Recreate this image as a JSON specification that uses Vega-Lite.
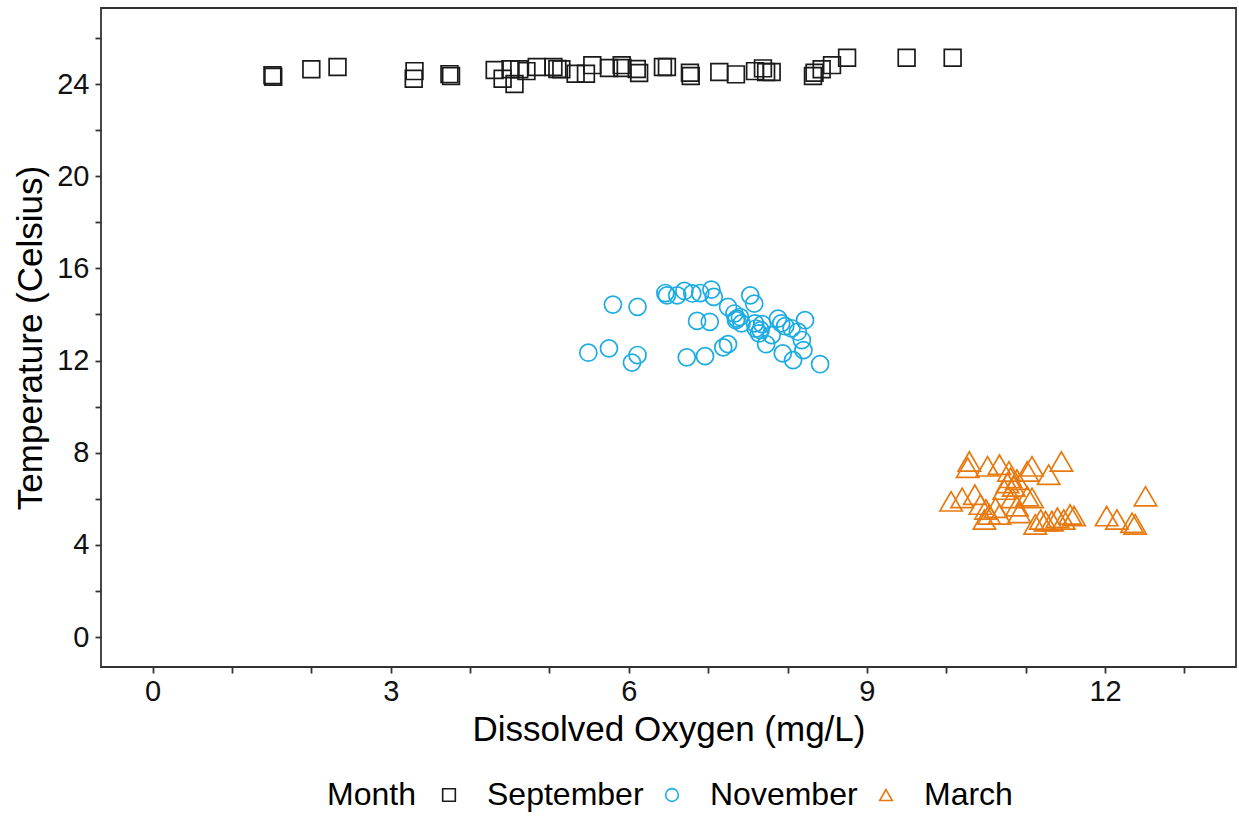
{
  "$schema": "https://vega.github.io/schema/vega-lite/v6.json",
  "width": 1135,
  "height": 659,
  "autosize": {"type": "none"},
  "padding": {"left": 101, "top": 8, "right": 3, "bottom": 149},
  "background": "white",
  "config": {
    "font": "Liberation Sans",
    "view": {"stroke": "#333333", "strokeWidth": 1.8},
    "axis": {
      "domain": false,
      "grid": false,
      "tickColor": "#333333",
      "tickWidth": 1.8,
      "tickSize": 6,
      "labelFont": "Liberation Sans",
      "labelFontSize": 29,
      "labelColor": "#111111",
      "titleFont": "Liberation Sans",
      "titleFontSize": 35,
      "titleFontWeight": "normal",
      "titleColor": "#000000"
    },
    "legend": {
      "labelFont": "Liberation Sans",
      "titleFont": "Liberation Sans"
    }
  },
  "data": {
    "values": [
      {"oxygen": 1.51, "temp": 24.38, "Month": "September"},
      {"oxygen": 1.52, "temp": 24.32, "Month": "September"},
      {"oxygen": 2.00, "temp": 24.64, "Month": "September"},
      {"oxygen": 2.33, "temp": 24.74, "Month": "September"},
      {"oxygen": 3.30, "temp": 24.56, "Month": "September"},
      {"oxygen": 3.29, "temp": 24.23, "Month": "September"},
      {"oxygen": 3.74, "temp": 24.43, "Month": "September"},
      {"oxygen": 3.76, "temp": 24.35, "Month": "September"},
      {"oxygen": 4.31, "temp": 24.61, "Month": "September"},
      {"oxygen": 4.41, "temp": 24.23, "Month": "September"},
      {"oxygen": 4.56, "temp": 24.00, "Month": "September"},
      {"oxygen": 4.51, "temp": 24.64, "Month": "September"},
      {"oxygen": 4.62, "temp": 24.64, "Month": "September"},
      {"oxygen": 4.71, "temp": 24.56, "Month": "September"},
      {"oxygen": 4.84, "temp": 24.74, "Month": "September"},
      {"oxygen": 5.05, "temp": 24.74, "Month": "September"},
      {"oxygen": 5.10, "temp": 24.65, "Month": "September"},
      {"oxygen": 5.15, "temp": 24.64, "Month": "September"},
      {"oxygen": 5.33, "temp": 24.45, "Month": "September"},
      {"oxygen": 5.46, "temp": 24.45, "Month": "September"},
      {"oxygen": 5.54, "temp": 24.82, "Month": "September"},
      {"oxygen": 5.75, "temp": 24.70, "Month": "September"},
      {"oxygen": 5.91, "temp": 24.82, "Month": "September"},
      {"oxygen": 5.92, "temp": 24.70, "Month": "September"},
      {"oxygen": 6.10, "temp": 24.65, "Month": "September"},
      {"oxygen": 6.13, "temp": 24.48, "Month": "September"},
      {"oxygen": 6.43, "temp": 24.74, "Month": "September"},
      {"oxygen": 6.48, "temp": 24.74, "Month": "September"},
      {"oxygen": 6.77, "temp": 24.49, "Month": "September"},
      {"oxygen": 6.78, "temp": 24.35, "Month": "September"},
      {"oxygen": 7.14, "temp": 24.52, "Month": "September"},
      {"oxygen": 7.35, "temp": 24.42, "Month": "September"},
      {"oxygen": 7.59, "temp": 24.56, "Month": "September"},
      {"oxygen": 7.69, "temp": 24.68, "Month": "September"},
      {"oxygen": 7.73, "temp": 24.52, "Month": "September"},
      {"oxygen": 7.80, "temp": 24.52, "Month": "September"},
      {"oxygen": 8.32, "temp": 24.35, "Month": "September"},
      {"oxygen": 8.34, "temp": 24.49, "Month": "September"},
      {"oxygen": 8.43, "temp": 24.64, "Month": "September"},
      {"oxygen": 8.56, "temp": 24.82, "Month": "September"},
      {"oxygen": 8.75, "temp": 25.14, "Month": "September"},
      {"oxygen": 9.50, "temp": 25.14, "Month": "September"},
      {"oxygen": 10.08, "temp": 25.14, "Month": "September"},

      {"oxygen": 5.80, "temp": 14.43, "Month": "November"},
      {"oxygen": 6.11, "temp": 14.33, "Month": "November"},
      {"oxygen": 5.49, "temp": 12.34, "Month": "November"},
      {"oxygen": 5.75, "temp": 12.53, "Month": "November"},
      {"oxygen": 6.04, "temp": 11.91, "Month": "November"},
      {"oxygen": 6.11, "temp": 12.24, "Month": "November"},
      {"oxygen": 6.46, "temp": 14.93, "Month": "November"},
      {"oxygen": 6.48, "temp": 14.83, "Month": "November"},
      {"oxygen": 6.61, "temp": 14.83, "Month": "November"},
      {"oxygen": 6.70, "temp": 15.02, "Month": "November"},
      {"oxygen": 6.80, "temp": 14.91, "Month": "November"},
      {"oxygen": 6.90, "temp": 14.93, "Month": "November"},
      {"oxygen": 7.04, "temp": 15.08, "Month": "November"},
      {"oxygen": 7.07, "temp": 14.76, "Month": "November"},
      {"oxygen": 6.86, "temp": 13.72, "Month": "November"},
      {"oxygen": 7.02, "temp": 13.68, "Month": "November"},
      {"oxygen": 6.73, "temp": 12.14, "Month": "November"},
      {"oxygen": 6.96, "temp": 12.19, "Month": "November"},
      {"oxygen": 7.19, "temp": 12.57, "Month": "November"},
      {"oxygen": 7.25, "temp": 12.71, "Month": "November"},
      {"oxygen": 7.25, "temp": 14.33, "Month": "November"},
      {"oxygen": 7.33, "temp": 14.04, "Month": "November"},
      {"oxygen": 7.36, "temp": 13.82, "Month": "November"},
      {"oxygen": 7.40, "temp": 13.89, "Month": "November"},
      {"oxygen": 7.35, "temp": 13.75, "Month": "November"},
      {"oxygen": 7.42, "temp": 13.61, "Month": "November"},
      {"oxygen": 7.53, "temp": 14.83, "Month": "November"},
      {"oxygen": 7.58, "temp": 14.47, "Month": "November"},
      {"oxygen": 7.59, "temp": 13.61, "Month": "November"},
      {"oxygen": 7.60, "temp": 13.39, "Month": "November"},
      {"oxygen": 7.66, "temp": 13.32, "Month": "November"},
      {"oxygen": 7.64, "temp": 13.18, "Month": "November"},
      {"oxygen": 7.68, "temp": 13.58, "Month": "November"},
      {"oxygen": 7.73, "temp": 12.71, "Month": "November"},
      {"oxygen": 7.88, "temp": 13.82, "Month": "November"},
      {"oxygen": 7.92, "temp": 13.61, "Month": "November"},
      {"oxygen": 7.97, "temp": 13.49, "Month": "November"},
      {"oxygen": 7.94, "temp": 12.31, "Month": "November"},
      {"oxygen": 8.07, "temp": 12.02, "Month": "November"},
      {"oxygen": 8.13, "temp": 13.25, "Month": "November"},
      {"oxygen": 8.18, "temp": 12.89, "Month": "November"},
      {"oxygen": 8.20, "temp": 12.45, "Month": "November"},
      {"oxygen": 8.22, "temp": 13.75, "Month": "November"},
      {"oxygen": 8.41, "temp": 11.84, "Month": "November"},
      {"oxygen": 7.80, "temp": 13.10, "Month": "November"},
      {"oxygen": 8.05, "temp": 13.40, "Month": "November"},

      {"oxygen": 10.29, "temp": 7.62, "Month": "March"},
      {"oxygen": 10.27, "temp": 7.35, "Month": "March"},
      {"oxygen": 10.52, "temp": 7.41, "Month": "March"},
      {"oxygen": 10.67, "temp": 7.48, "Month": "March"},
      {"oxygen": 10.79, "temp": 7.19, "Month": "March"},
      {"oxygen": 11.02, "temp": 7.19, "Month": "March"},
      {"oxygen": 11.08, "temp": 7.41, "Month": "March"},
      {"oxygen": 11.29, "temp": 7.05, "Month": "March"},
      {"oxygen": 11.45, "temp": 7.62, "Month": "March"},
      {"oxygen": 10.06, "temp": 5.89, "Month": "March"},
      {"oxygen": 10.20, "temp": 6.04, "Month": "March"},
      {"oxygen": 10.36, "temp": 6.18, "Month": "March"},
      {"oxygen": 10.43, "temp": 5.75, "Month": "March"},
      {"oxygen": 10.50, "temp": 5.54, "Month": "March"},
      {"oxygen": 10.54, "temp": 5.32, "Month": "March"},
      {"oxygen": 10.48, "temp": 5.10, "Month": "March"},
      {"oxygen": 10.62, "temp": 5.61, "Month": "March"},
      {"oxygen": 10.67, "temp": 5.32, "Month": "March"},
      {"oxygen": 10.73, "temp": 6.40, "Month": "March"},
      {"oxygen": 10.77, "temp": 6.69, "Month": "March"},
      {"oxygen": 10.81, "temp": 6.91, "Month": "March"},
      {"oxygen": 10.85, "temp": 6.54, "Month": "March"},
      {"oxygen": 10.89, "temp": 6.83, "Month": "March"},
      {"oxygen": 10.83, "temp": 6.04, "Month": "March"},
      {"oxygen": 10.89, "temp": 5.68, "Month": "March"},
      {"oxygen": 10.92, "temp": 5.39, "Month": "March"},
      {"oxygen": 11.02, "temp": 6.11, "Month": "March"},
      {"oxygen": 11.08, "temp": 6.04, "Month": "March"},
      {"oxygen": 11.12, "temp": 4.89, "Month": "March"},
      {"oxygen": 11.19, "temp": 5.10, "Month": "March"},
      {"oxygen": 11.25, "temp": 5.03, "Month": "March"},
      {"oxygen": 11.33, "temp": 5.03, "Month": "March"},
      {"oxygen": 11.40, "temp": 5.18, "Month": "March"},
      {"oxygen": 11.48, "temp": 5.10, "Month": "March"},
      {"oxygen": 11.56, "temp": 5.32, "Month": "March"},
      {"oxygen": 11.61, "temp": 5.25, "Month": "March"},
      {"oxygen": 12.02, "temp": 5.25, "Month": "March"},
      {"oxygen": 12.15, "temp": 5.10, "Month": "March"},
      {"oxygen": 12.34, "temp": 4.96, "Month": "March"},
      {"oxygen": 12.38, "temp": 4.89, "Month": "March"},
      {"oxygen": 12.51, "temp": 6.11, "Month": "March"}
    ]
  },
  "mark": {"type": "point", "filled": false, "strokeWidth": 1.7, "opacity": 1},
  "encoding": {
    "x": {
      "field": "oxygen",
      "type": "quantitative",
      "title": "Dissolved Oxygen (mg/L)",
      "scale": {"domain": [-0.65, 13.65], "nice": false, "zero": false},
      "axis": {
        "values": [0, 1, 2, 3, 4, 5, 6, 7, 8, 9, 10, 11, 12, 13],
        "labelExpr": "datum.value % 3 === 0 ? datum.label : ''",
        "labelPadding": 4,
        "titlePadding": 6
      }
    },
    "y": {
      "field": "temp",
      "type": "quantitative",
      "title": "Temperature (Celsius)",
      "scale": {"domain": [-1.3, 27.3], "nice": false, "zero": false},
      "axis": {
        "values": [0, 2, 4, 6, 8, 10, 12, 14, 16, 18, 20, 22, 24, 26],
        "labelExpr": "datum.value % 4 === 0 ? datum.label : ''",
        "labelPadding": 6,
        "titlePadding": 8
      }
    },
    "color": {
      "field": "Month",
      "type": "nominal",
      "scale": {
        "domain": ["September", "November", "March"],
        "range": ["#1a1a1a", "#1cace3", "#e8790f"]
      },
      "legend": {
        "orient": "none",
        "direction": "horizontal",
        "legendX": 226,
        "legendY": 771,
        "title": "Month",
        "titleOrient": "left",
        "titleFontSize": 32,
        "titleFontWeight": "normal",
        "titleColor": "#000000",
        "titlePadding": 17,
        "titleBaseline": "middle",
        "labelFontSize": 32,
        "labelColor": "#000000",
        "labelOffset": 22,
        "columnPadding": 12,
        "symbolSize": 160,
        "symbolStrokeWidth": 1.6,
        "symbolFillColor": "transparent",
        "encode": {
          "symbols": {
            "update": {
              "size": {"signal": "datum.value === 'March' ? 290 : datum.value === 'November' ? 110 : 140"}
            }
          }
        }
      }
    },
    "shape": {
      "field": "Month",
      "type": "nominal",
      "scale": {
        "domain": ["September", "November", "March"],
        "range": ["square", "circle", "triangle-up"]
      }
    },
    "size": {
      "condition": [
        {"test": "datum.Month === 'March'", "value": 500},
        {"test": "datum.Month === 'November'", "value": 290}
      ],
      "value": 280
    }
  }
}
